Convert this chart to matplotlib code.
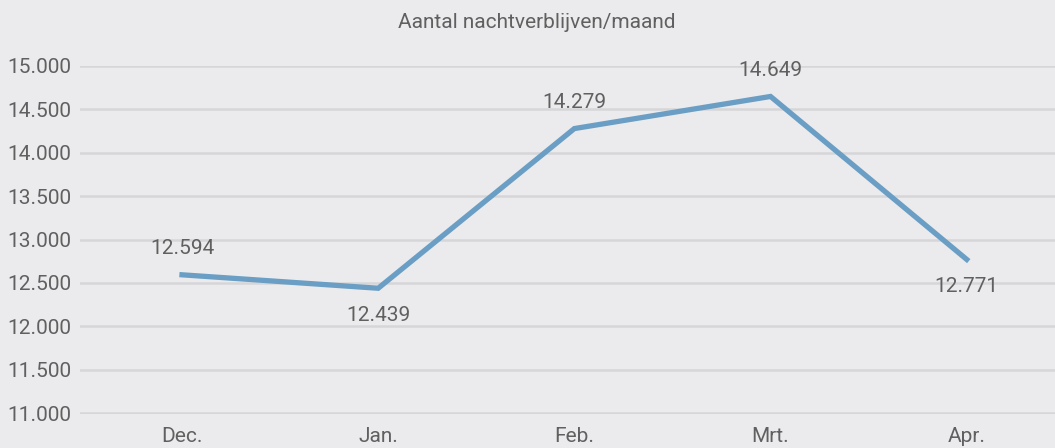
import matplotlib
matplotlib.use("Agg")
import matplotlib.pyplot as plt
from matplotlib.ticker import FuncFormatter

months = ["Dec.", "Jan.", "Feb.", "Mrt.", "Apr."]
stays = [12594, 12439, 14279, 14649, 12771]
label_above = [True, False, True, True, False]

BG = "#ebebed"
GRID = "#d6d6d8"
TXT = "#606060"
LINE = "#6a9ec4"

plt.rcParams["font.family"] = ["Roboto", "DejaVu Sans"]
plt.rcParams["font.weight"] = "normal"

fig = plt.figure(figsize=(10.55, 4.48), dpi=100, facecolor=BG)
ax = fig.add_axes([80 / 1055, (448 - 414) / 448, 975 / 1055, 348 / 448])
ax.set_facecolor(BG)

x = range(len(months))
ax.plot(x, stays, color=LINE, lw=3.8, solid_joinstyle="miter", zorder=3)
for i, v in enumerate(stays):
    s = f"{v:,}".replace(",", ".")
    if label_above[i]:
        ax.annotate(s, (i, v), xytext=(0, 12), textcoords="offset points",
                    ha="center", va="bottom", fontsize=15, color=TXT)
    else:
        ax.annotate(s, (i, v), xytext=(0, -13), textcoords="offset points",
                    ha="center", va="top", fontsize=15, color=TXT)

ax.set_ylim(10990, 15000)
ax.set_xlim(-0.52, 4.45)
ax.set_yticks(range(11000, 15001, 500))
ax.yaxis.set_major_formatter(FuncFormatter(lambda v, p: f"{int(v):,}".replace(",", ".")))
ax.set_xticks(list(x))
ax.set_xticklabels(months)
ax.grid(axis="y", color=GRID, lw=1.8)
ax.set_axisbelow(True)
for sp in ax.spines.values():
    sp.set_visible(False)
ax.tick_params(length=0, labelsize=15, colors=TXT)
ax.tick_params(axis="y", pad=6)
ax.tick_params(axis="x", pad=9)

fig.text(537 / 1055, 1 - 22 / 448, "Aantal nachtverblijven/maand", ha="center",
         va="center", fontsize=15, color=TXT)

fig.savefig("out.png", facecolor=BG)
